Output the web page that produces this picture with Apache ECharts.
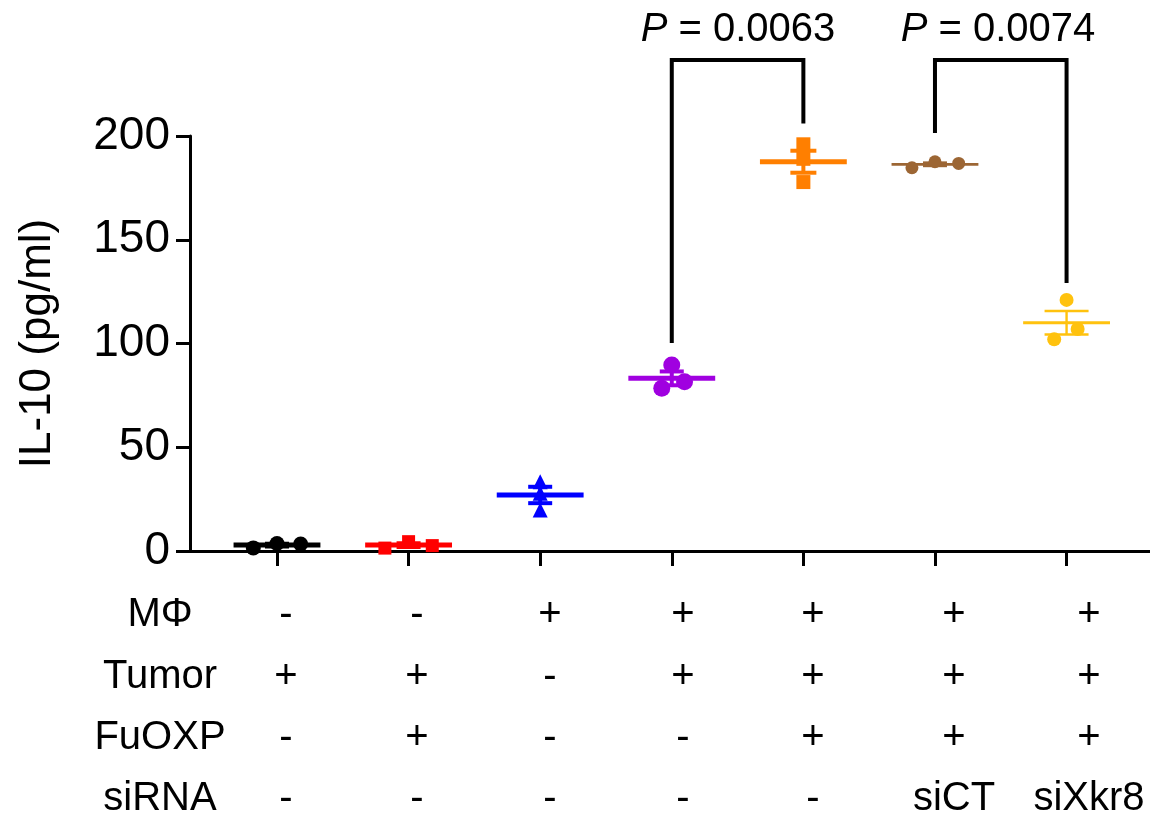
<!DOCTYPE html>
<html>
<head>
<meta charset="utf-8">
<script src="https://cdn.jsdelivr.net/npm/echarts@6/dist/echarts.min.js"></script>
<style>
  html, body { margin: 0; padding: 0; background: #fff; }
  #chart { width: 1150px; height: 815px; }
</style>
</head>
<body>
<div id="chart"></div>
<script>
// group positions on the x axis (1..7)
var groupX = [1, 2, 3, 4, 5, 6, 7];

// IL-10 values (pg/ml), three replicates per group
var vBlack = [1.5, 3.6, 3.4];
var vRed = [1.4, 4.5, 2.6];
var vBlue = [33.4, 27.8, 19.8];
var vPurple = [89.6, 78.4, 81.6];
var vOrange = [196, 189, 177.8];
var vBrown = [184.7, 187.6, 186.8];
var vYellow = [121, 107, 102];

// horizontal jitter of the replicates, in groups
var jBlack = [-0.18, 0, 0.18];
var jRed = [-0.18, 0, 0.18];
var jBlue = [0, 0, 0];
var jPurple = [0, -0.076, 0.097];
var jOrange = [0, 0, 0];
var jBrown = [-0.175, 0, 0.18];
var jYellow = [0, 0.084, -0.094];

var yTicks = [0, 50, 100, 150, 200];

// significance brackets: [left group, right group, left leg end, right leg end, top]
var brackets = [
	[4, 5, 100.2, 206, 236.6],
	[6, 7, 201.4, 129.2, 236.6]
];
var pLabels = ['P = 0.0063', 'P = 0.0074'];

// condition table
var rowNames = ['MΦ', 'Tumor', 'FuOXP', 'siRNA'];
var rowMF = ['-', '-', '+', '+', '+', '+', '+'];
var rowTumor = ['+', '+', '-', '+', '+', '+', '+'];
var rowFuOXP = ['-', '+', '-', '-', '+', '+', '+'];
var rowSiRNA = ['-', '-', '-', '-', '-', 'siCT', 'siXkr8'];

var values = [vBlack, vRed, vBlue, vPurple, vOrange, vBrown, vYellow];
var jitters = [jBlack, jRed, jBlue, jPurple, jOrange, jBrown, jYellow];

var colors = ['#000000', '#ff0000', '#0000ff', '#a000e0', '#ff7f00', '#9c6634', '#ffc20e'];
var symbols = ['circle', 'rect', 'triangle', 'circle', 'rect', 'circle', 'circle'];
var symbolSizes = [15, 13, 15, 17, 14, 13, 14];
var meanWidths = [5, 5, 5, 5, 5, 2.8, 3];
var capHalf = [12, 12, 12, 12, 13, 12, 22];

var fontFam = 'Liberation Sans, Arial, sans-serif';

function mean(a) {
	var s = 0;
	for(var i = 0; i < a.length; i++) s += a[i];
	return s / a.length;
}

function sem(a) {
	var m = mean(a);
	var s = 0;
	for(var i = 0; i < a.length; i++) s += (a[i] - m) * (a[i] - m);
	return Math.sqrt(s / (a.length - 1)) / Math.sqrt(a.length);
}

var series = [];

// mean + SEM bars
var statData = [];
for(var g = 0; g < groupX.length; g++) {
	statData.push([groupX[g], mean(values[g]), sem(values[g]), g]);
}
series.push({
	type: 'custom',
	z: 2,
	clip: false,
	renderItem: function(params, api) {
		var x = api.value(0);
		var m = api.value(1);
		var e = api.value(2);
		var g = api.value(3);
		var c = colors[g];
		var w = meanWidths[g];
		var l = api.coord([x - 0.33, m]);
		var r = api.coord([x + 0.33, m]);
		var top = api.coord([x, m + e]);
		var bot = api.coord([x, m - e]);
		var st = { stroke: c, lineWidth: w };
		var thin = { stroke: c, lineWidth: w * 0.8 };
		return {
			type: 'group',
			children: [
				{ type: 'line', shape: { x1: l[0], y1: l[1], x2: r[0], y2: r[1] }, style: st },
				{ type: 'line', shape: { x1: top[0], y1: top[1], x2: bot[0], y2: bot[1] }, style: thin },
				{ type: 'line', shape: { x1: top[0] - capHalf[g], y1: top[1], x2: top[0] + capHalf[g], y2: top[1] }, style: thin },
				{ type: 'line', shape: { x1: bot[0] - capHalf[g], y1: bot[1], x2: bot[0] + capHalf[g], y2: bot[1] }, style: thin }
			]
		};
	},
	data: statData
});

// replicate points
for(var g = 0; g < groupX.length; g++) {
	var pts = [];
	for(var i = 0; i < values[g].length; i++) {
		pts.push([groupX[g] + jitters[g][i], values[g][i]]);
	}
	series.push({
		type: 'scatter',
		z: 3,
		symbol: symbols[g],
		symbolSize: symbolSizes[g],
		itemStyle: { color: colors[g], opacity: 1 },
		data: pts
	});
}

// brackets
for(var b = 0; b < brackets.length; b++) {
	var br = brackets[b];
	series.push({
		type: 'line',
		z: 4,
		clip: false,
		symbol: 'none',
		silent: true,
		lineStyle: { color: '#000', width: 4, join: 'miter' },
		data: [[br[0], br[2]], [br[0], br[4]], [br[1], br[4]], [br[1], br[3]]]
	});
}

var graphics = [];

// P value texts
var pX = [738, 998];
for(var p = 0; p < pLabels.length; p++) {
	var parts = pLabels[p].split(' = ');
	graphics.push({
		type: 'text',
		x: pX[p],
		y: 30,
		style: {
			text: '{i|' + parts[0] + '} = ' + parts[1],
			font: '40px ' + fontFam,
			fill: '#000',
			align: 'center',
			verticalAlign: 'middle',
			rich: {
				i: { fontStyle: 'italic', fontSize: 40, fontFamily: fontFam }
			}
		}
	});
}

// condition table
var rows = [rowMF, rowTumor, rowFuOXP, rowSiRNA];
var rowY = [615, 677, 738, 799];
var colX = [286, 417, 550, 683, 813, 954, 1089];
var nameX = 160;
for(var r = 0; r < rows.length; r++) {
	graphics.push({
		type: 'text',
		x: nameX,
		y: rowY[r],
		style: {
			text: rowNames[r],
			font: '40px ' + fontFam,
			fill: '#000',
			align: 'center',
			verticalAlign: 'middle'
		}
	});
	for(var c = 0; c < rows[r].length; c++) {
		graphics.push({
			type: 'text',
			x: colX[c],
			y: rowY[r],
			style: {
				text: rows[r][c],
				font: '40px ' + fontFam,
				fill: '#000',
				align: 'center',
				verticalAlign: 'middle'
			}
		});
	}
}

var chart = echarts.init(document.getElementById('chart'));

var option = {
	animation: false,
	backgroundColor: '#fff',
	grid: {
		left: 190,
		right: 0,
		top: 136,
		bottom: 264,
		outerBoundsMode: 'none'
	},
	xAxis: {
		type: 'value',
		min: 0.339,
		max: 7.634,
		axisLine: { lineStyle: { color: '#000', width: 3 } },
		axisTick: {
			show: true,
			length: 15,
			lineStyle: { color: '#000', width: 3 },
			customValues: groupX
		},
		axisLabel: { show: false },
		splitLine: { show: false }
	},
	yAxis: {
		type: 'value',
		min: 0,
		max: 200,
		interval: 50,
		name: 'IL-10 (pg/ml)',
		nameLocation: 'middle',
		nameRotate: 90,
		nameGap: 130,
		nameTextStyle: { fontSize: 44, color: '#000', fontFamily: fontFam },
		axisLine: { show: true, lineStyle: { color: '#000', width: 3 } },
		axisTick: {
			show: true,
			length: 14,
			lineStyle: { color: '#000', width: 3 },
			customValues: yTicks
		},
		axisLabel: {
			fontSize: 46,
			color: '#000',
			fontFamily: fontFam,
			margin: 20,
			customValues: yTicks
		},
		splitLine: { show: false }
	},
	graphic: graphics,
	series: series
};

chart.setOption(option);
</script>
</body>
</html>
